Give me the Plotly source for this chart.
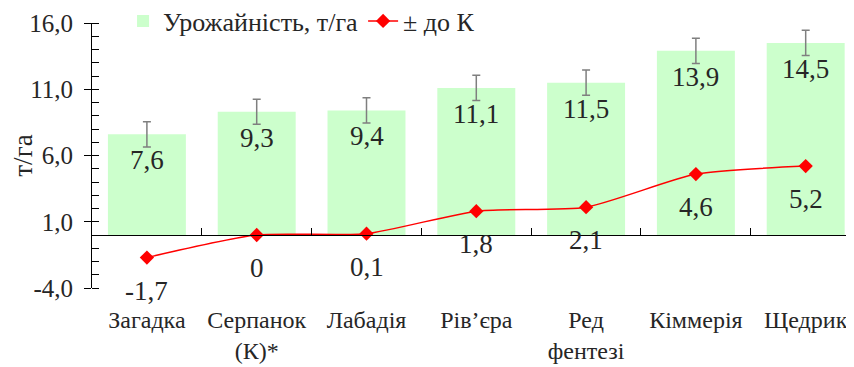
import plotly.graph_objects as go

categories = ["Загадка", "Серпанок<br>(К)*", "Лабадія", "Рів’єра", "Ред<br>фентезі", "Кіммерія", "Щедрик"]
yield_vals = [7.6, 9.3, 9.4, 11.1, 11.5, 13.9, 14.5]
yield_err = [0.95, 0.95, 0.95, 0.95, 0.95, 0.95, 0.95]
diff_vals = [-1.7, 0, 0.1, 1.8, 2.1, 4.6, 5.2]
y_tickvals = [-4, 1, 6, 11, 16]
y_ticktext = ["-4,0", "1,0", "6,0", "11,0", "16,0"]

def fmt(v):
    if v == 0:
        return "0"
    return ("%.1f" % v).replace(".", ",")

FONT = "Liberation Serif"
TXT = "#262626"
YR = [-4, 16]
n = len(categories)
XR = [-0.5, n - 0.5 - 0.06]

fig = go.Figure()
fig.add_trace(go.Bar(
    x=categories, y=yield_vals, name="Урожайність, т/га",
    marker=dict(color="#CCFFCC", line=dict(width=0)),
    error_y=dict(type="data", array=yield_err, color="#7F7F7F", thickness=1.5, width=4),
    xaxis="x", yaxis="y",
))
fig.add_trace(go.Scatter(
    x=categories, y=diff_vals, name="± до К", mode="lines+markers",
    line=dict(color="#FF0000", width=1.5, shape="spline", smoothing=0.6),
    marker=dict(symbol="diamond", size=11, color="#FF0000"),
    xaxis="x2", yaxis="y2",
))

annotations = []
for c, v in zip(categories, yield_vals):
    annotations.append(dict(x=c, y=v, xref="x", yref="y", text=fmt(v), showarrow=False,
                            yshift=-26, font=dict(family=FONT, size=27, color=TXT)))
for c, v in zip(categories, diff_vals):
    annotations.append(dict(x=c, y=v, xref="x2", yref="y2", text=fmt(v),
                            showarrow=False, yshift=-33, font=dict(family=FONT, size=27, color=TXT)))

zero_pos = (0 - YR[0]) / (YR[1] - YR[0])

fig.update_layout(
    width=846, height=359,
    margin=dict(l=84, r=0, t=15, b=79, autoexpand=False),
    paper_bgcolor="white", plot_bgcolor="white",
    font=dict(family=FONT, size=24, color=TXT),
    bargap=0.29,
    showlegend=True,
    legend=dict(orientation="h", xref="container", yref="container",
                x=0.136, y=1 - 13 / 359, yanchor="middle", xanchor="left",
                font=dict(family=FONT, size=26, color=TXT), bgcolor="rgba(0,0,0,0)",
                tracegroupgap=0),
    xaxis=dict(type="category", range=XR, showline=False, ticks="", showgrid=False,
               zeroline=False, tickfont=dict(family=FONT, size=24, color=TXT),
               ticklabelstandoff=15, automargin=False),
    xaxis2=dict(type="category", range=XR, overlaying="x", anchor="free", position=zero_pos,
                side="bottom", showline=True, linecolor="black", linewidth=1,
                ticks="inside", ticklen=7, tickcolor="black", tickson="boundaries",
                showticklabels=False, showgrid=False, zeroline=False, automargin=False),
    yaxis=dict(range=YR, tickvals=y_tickvals, ticktext=y_ticktext, ticks="outside", ticklen=7,
               tickcolor="black", showline=True, linecolor="black", linewidth=1,
               showgrid=False, zeroline=False, ticklabelstandoff=6, automargin=False,
               tickfont=dict(family=FONT, size=25, color=TXT),
               minor=dict(dtick=1, tick0=0, ticks="inside", ticklen=7, tickcolor="black", showgrid=False),
               title=dict(text="т/га", font=dict(family=FONT, size=27, color=TXT), standoff=16)),
    yaxis2=dict(range=YR, overlaying="y", anchor="x", side="left", tickvals=y_tickvals,
                ticks="inside", ticklen=7, tickcolor="black", showticklabels=False,
                showline=False, showgrid=False, zeroline=False, automargin=False),
    annotations=annotations,
)

fig.write_html("out.html")
